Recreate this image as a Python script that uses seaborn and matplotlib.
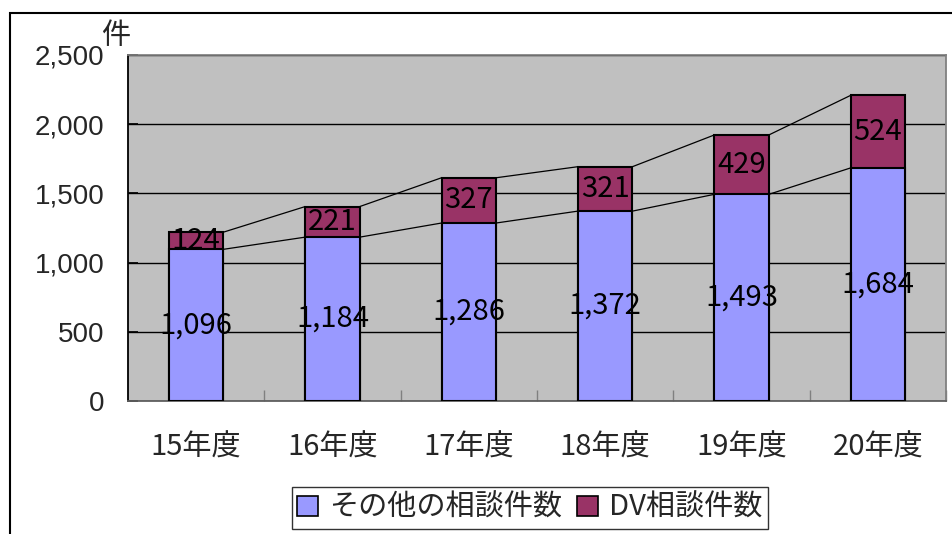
import numpy as np
import pandas as pd
import matplotlib
matplotlib.use("Agg")
import matplotlib.pyplot as plt
import seaborn as sns
from matplotlib.patches import Patch, Rectangle

# chart data
years = ["15年度", "16年度", "17年度", "18年度", "19年度", "20年度"]
other_counts = [1096, 1184, 1286, 1372, 1493, 1684]
dv_counts = [124, 221, 327, 321, 429, 524]
series_names = ["その他の相談件数", "DV相談件数"]
y_ticks = [0, 500, 1000, 1500, 2000, 2500]

blue = "#9999ff"
maroon = "#993366"

sns.set_theme(style="white")
plt.rcParams["font.family"] = ["Noto Sans CJK JP", "DejaVu Sans"]

df = pd.DataFrame({"year": years, "other": other_counts, "dv": dv_counts})
df["total"] = df["other"] + df["dv"]

fig = plt.figure(figsize=(9.52, 5.34), dpi=100)
ax = fig.add_axes([128 / 952, 1 - 401 / 534, (946 - 128) / 952, (401 - 55) / 534])
ax.set_facecolor("#c0c0c0")

# stacked bars: draw total in maroon, then the lower segment in blue over it
sns.barplot(data=df, x="year", y="total", color=maroon, saturation=1, width=0.4,
            edgecolor="black", linewidth=1.5, ax=ax, zorder=3)
sns.barplot(data=df, x="year", y="other", color=blue, saturation=1, width=0.4,
            edgecolor="black", linewidth=1.5, ax=ax, zorder=4)

# series lines between bar tops
n = len(years)
half = 0.2
for level in [df["other"].values, df["total"].values]:
    for i in range(n - 1):
        ax.plot([i + half, i + 1 - half], [level[i], level[i + 1]],
                color="black", lw=0.9, zorder=2)

# data labels
for i in range(n):
    ax.text(i, df["other"][i] / 2, f"{df['other'][i]:,}", ha="center", va="center",
            fontsize=21, color="black", zorder=6)
    ax.text(i, df["other"][i] + df["dv"][i] / 2, f"{df['dv'][i]:,}", ha="center",
            va="center", fontsize=21, color="black", zorder=6)

ax.set_ylim(0, 2500)
ax.set_xlim(-0.5, n - 0.5)
ax.set_yticks(y_ticks)
ax.set_yticklabels([f"{v:,}" for v in y_ticks], family=["Liberation Sans", "DejaVu Sans"], fontsize=20)
ax.yaxis.grid(True, color="black", lw=1)
ax.set_axisbelow(True)
ax.tick_params(axis="y", direction="in", length=7, color="black", pad=17, left=True)
ax.tick_params(axis="x", which="major", length=0, pad=23, labelsize=21)
ax.set_xticks(np.arange(n) + 0.5, minor=True)
ax.tick_params(axis="x", which="minor", direction="in", length=8, color="#808080", bottom=True)
ax.set_xlabel("")
ax.set_ylabel("")

ax.spines["left"].set_color("black")
ax.spines["left"].set_linewidth(1.3)
ax.spines["bottom"].set_color("#606060")
ax.spines["bottom"].set_linewidth(1.3)
ax.spines["top"].set_color("#808080")
ax.spines["right"].set_color("#808080")
ax.spines["right"].set_linewidth(1.3)

fig.text(116 / 952, 1 - 36 / 534, "件", fontsize=21, ha="center", va="center")

handles = [Patch(facecolor=blue, edgecolor="black", lw=1.2),
           Patch(facecolor=maroon, edgecolor="black", lw=1.2)]
leg = fig.legend(handles, series_names, loc="center", bbox_to_anchor=(530 / 952, 1 - 508 / 534),
                 ncol=2, fontsize=21, frameon=True, fancybox=False, edgecolor="black",
                 handlelength=0.7, handleheight=0.7, handletextpad=0.4, columnspacing=0.5,
                 borderpad=0.2, borderaxespad=0)
leg.get_frame().set_linewidth(1.0)

# outer chart frame
fig.patches.append(Rectangle((10 / 952, -0.05), 1.1, 0.05 + 1 - 13 / 534, transform=fig.transFigure,
                             fill=False, edgecolor="black", lw=1.5))

fig.savefig("out.png", dpi=100)
